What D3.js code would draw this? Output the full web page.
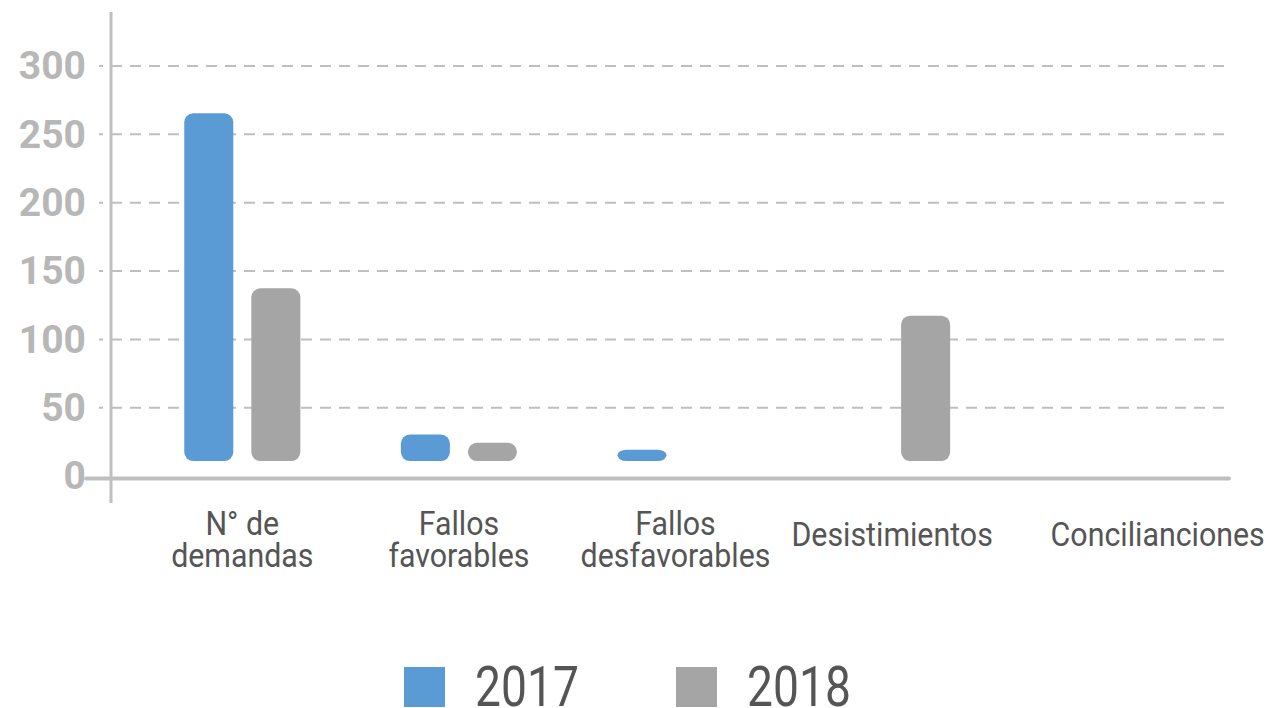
<!DOCTYPE html>
<html>
<head>
<meta charset="utf-8">
<script src="https://cdn.jsdelivr.net/npm/d3@7"></script>
<style>
  body { margin: 0; background: #fff; }
  svg { display: block; font-family: Roboto, sans-serif; }
</style>
</head>
<body>
<svg></svg>
<script>
const categories = ['N° de demandas', 'Fallos favorables', 'Fallos desfavorables', 'Desistimientos', 'Concilianciones']
const years = ['2017', '2018']
const values2017 = [265, 30, 19, 0, 0]
const values2018 = [137, 24, 0, 117, 0]
const yTicks = [0, 50, 100, 150, 200, 250, 300]

const colors = { '2017': '#5b9bd5', '2018': '#a5a5a5' }

let svgWidth = 1274
let svgHeight = 708
let barGap = 14.5   // bars float a little above the zero line

const svg = d3.select('svg')
  .attr('width', svgWidth)
  .attr('height', svgHeight)

const data = categories.map((c, i) => ({
  cat: c,
  vals: [{ year: '2017', v: values2017[i] }, { year: '2018', v: values2018[i] }]
}))

const xScale = d3.scaleBand()
  .domain(categories)
  .range([134, 1217])
  .paddingInner(0.464)
  .paddingOuter(0.232)

const xSub = d3.scaleBand()
  .domain(years)
  .range([0, xScale.bandwidth()])
  .paddingInner(0.2687)

const yScale = d3.scaleLinear()
  .domain([0, 300])
  .range([475.6, 65.5])

// gridlines + tick labels
const gridRight = 1224
const yAxis = d3.axisLeft(yScale)
  .tickValues(yTicks)
  .tickSize(gridRight - 99)
  .tickPadding(13)
svg.append('g')
  .attr('transform', 'translate(' + gridRight + ',0)')
  .call(yAxis)
  .attr('font-family', 'Roboto, sans-serif')
  .call(g => g.select('.domain').remove())
  .call(g => g.selectAll('line')
    .attr('stroke', d => d === 0 ? 'none' : '#bfbfbf')
    .attr('stroke-width', 2)
    .attr('stroke-dasharray', '11 8'))
  .call(g => g.selectAll('text')
    .attr('fill', '#b7b7b7')
    .attr('font-size', 39)
    .attr('font-weight', 'bold')
    .attr('dy', '0.34em'))

// axis lines
svg.append('line')
  .attr('x1', 111).attr('x2', 111)
  .attr('y1', 12).attr('y2', 503)
  .attr('stroke', '#bfbfbf').attr('stroke-width', 3)
svg.append('line')
  .attr('x1', 86).attr('x2', 1229)
  .attr('y1', yScale(0) + 3).attr('y2', yScale(0) + 3)
  .attr('stroke', '#bfbfbf').attr('stroke-width', 4)
  .attr('stroke-linecap', 'round')

// bars
const groups = svg.selectAll('.grp')
  .data(data)
  .enter()
  .append('g')
  .attr('class', 'grp')
  .attr('transform', d => 'translate(' + xScale(d.cat) + ',0)')

groups.selectAll('rect')
  .data(d => d.vals.filter(e => e.v > 0))
  .enter()
  .append('rect')
  .attr('x', d => xSub(d.year))
  .attr('width', xSub.bandwidth())
  .attr('y', d => yScale(d.v))
  .attr('height', d => yScale(0) - barGap - yScale(d.v))
  .attr('rx', 9)
  .attr('fill', d => colors[d.year])

// category labels
const xAxis = d3.axisBottom(xScale).tickSize(0).tickFormat('')
const xg = svg.append('g')
  .call(xAxis)
  .attr('font-family', 'Roboto, sans-serif')
xg.select('.domain').remove()
xg.selectAll('.tick').each(function (d, idx) {
  const words = d.split(' ')
  let lines
  if (words.length === 1) lines = [d]
  else if (d.startsWith('N°')) lines = ['N° de', 'demandas']
  else lines = [words[0], words.slice(1).join(' ')]
  // last label sits further right in the original
  const shift = idx === categories.length - 1 ? 49 : 0
  const t = d3.select(this).select('text')
    .attr('fill', '#555')
    .attr('font-size', 33)
    .attr('text-anchor', 'middle')
    .attr('transform', 'translate(' + shift + ',0) scale(0.92,1)')
    .attr('y', 0).attr('dy', null)
  const base = lines.length === 1 ? 546 : 535
  lines.forEach((l, i) => {
    t.append('tspan').attr('x', 0).attr('y', base + i * 32).text(l)
  })
})

// legend
const legend = svg.append('g')
const legendX = [404, 676]
years.forEach((yr, i) => {
  legend.append('rect')
    .attr('x', legendX[i]).attr('y', 667)
    .attr('width', 41).attr('height', 40)
    .attr('fill', colors[yr])
  legend.append('text')
    .attr('transform', 'translate(' + (legendX[i] + 71) + ',706) scale(0.84,1)')
    .attr('font-size', 55)
    .attr('fill', '#555')
    .text(yr)
})
</script>
</body>
</html>
